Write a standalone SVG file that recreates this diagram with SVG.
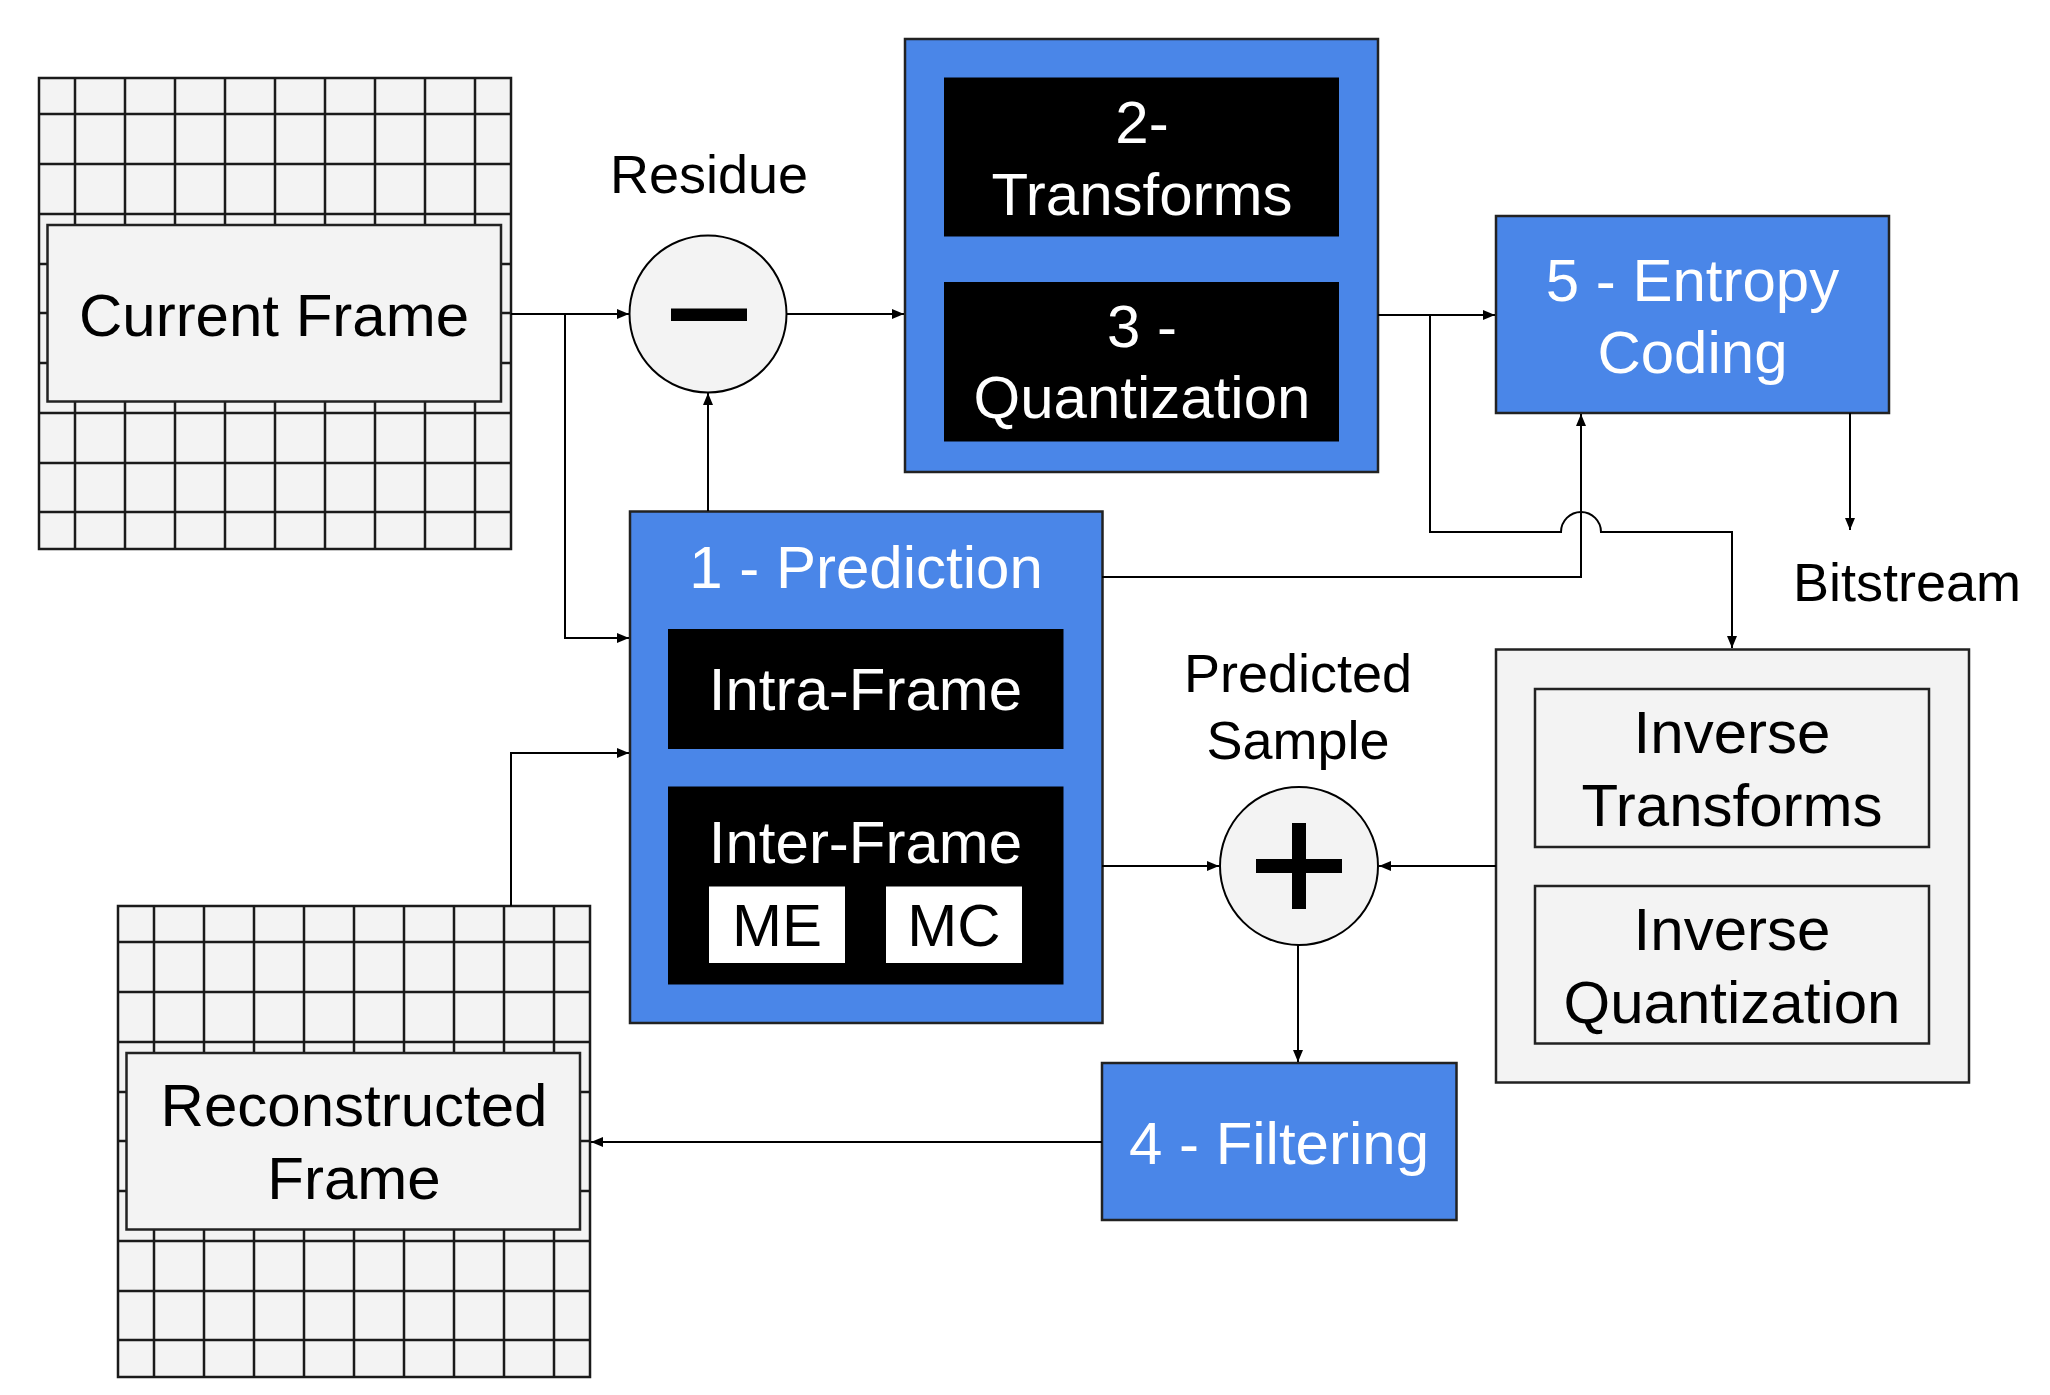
<svg xmlns="http://www.w3.org/2000/svg" width="2050" height="1395" viewBox="0 0 2050 1395">
<style>
  text { font-family: "Liberation Sans", Arial, sans-serif; text-anchor: middle; }
  .w { fill: #ffffff; }
  .k { fill: #000000; }
  .f60 { font-size: 60px; }
  .f54 { font-size: 54px; }
  .blue { fill: #4a86e8; stroke: #222222; stroke-width: 2.5; }
  .blk { fill: #000000; }
  .gray { fill: #f3f3f3; stroke: #222222; stroke-width: 2.5; }
  .grid { fill: none; stroke: #1a1a1a; stroke-width: 2.5; }
  .wht { fill: #ffffff; }
  .conn { fill: none; stroke: #000000; stroke-width: 2; marker-end: url(#arr); }
  .plain { fill: none; stroke: #000000; stroke-width: 2; }
</style>
<defs>
  <marker id="arr" markerUnits="userSpaceOnUse" markerWidth="13" markerHeight="10" refX="12" refY="5" orient="auto">
    <path d="M0,0 L12,5 L0,10 z" fill="#000000"/>
  </marker>
  <g id="gridShape">
    <rect x="39" y="78" width="472" height="471" fill="#f3f3f3" stroke="#1a1a1a" stroke-width="2.5"/>
    <path class="grid" d="M75,78V549 M125,78V549 M175,78V549 M225,78V549 M275,78V549 M325,78V549 M375,78V549 M425,78V549 M475,78V549 M39,114H511 M39,164H511 M39,214H511 M39,264H511 M39,313H511 M39,363H511 M39,413H511 M39,463H511 M39,512H511"/>
  </g>
</defs>
<rect width="2050" height="1395" fill="#ffffff"/>

<g id="current-frame">
  <use href="#gridShape"/>
  <rect class="gray" x="47.5" y="225" width="453.5" height="176.5"/>
  <text class="k f60" x="274" y="336">Current Frame</text>
</g>

<g id="reconstructed-frame">
  <use href="#gridShape" transform="translate(79,828)"/>
  <rect class="gray" x="126.5" y="1053" width="453.5" height="176.5"/>
  <text class="k f60" x="354" y="1126">Reconstructed</text>
  <text class="k f60" x="354" y="1199">Frame</text>
</g>

<g id="residue">
  <text class="k f54" x="709" y="193">Residue</text>
  <circle cx="708" cy="314" r="78.5" fill="#f3f3f3" stroke="#000000" stroke-width="2"/>
  <rect x="671" y="308.5" width="76" height="12.5" fill="#000000"/>
</g>

<g id="transform-quant">
  <rect class="blue" x="905" y="39" width="473" height="433"/>
  <rect class="blk" x="944" y="77.5" width="395" height="159"/>
  <text class="w f60" x="1142" y="143">2-</text>
  <text class="w f60" x="1142" y="215">Transforms</text>
  <rect class="blk" x="944" y="282" width="395" height="159.5"/>
  <text class="w f60" x="1142" y="347">3 -</text>
  <text class="w f60" x="1142" y="418">Quantization</text>
</g>

<g id="entropy">
  <rect class="blue" x="1496" y="216" width="393" height="197"/>
  <text class="w f60" x="1692.5" y="301">5 - Entropy</text>
  <text class="w f60" x="1692.5" y="373">Coding</text>
</g>

<g id="bitstream">
  <text class="k f54" x="1907" y="601">Bitstream</text>
</g>

<g id="prediction">
  <rect class="blue" x="630" y="511.5" width="472.5" height="511.5"/>
  <text class="w f60" x="866" y="588">1 - Prediction</text>
  <rect class="blk" x="668" y="629" width="395.5" height="120"/>
  <text class="w f60" x="865.5" y="710">Intra-Frame</text>
  <rect class="blk" x="668" y="786.5" width="395.5" height="198"/>
  <text class="w f60" x="865.5" y="863">Inter-Frame</text>
  <rect class="wht" x="709" y="886.5" width="136" height="76.5"/>
  <text class="k f60" x="777" y="946">ME</text>
  <rect class="wht" x="886" y="886.5" width="136" height="76.5"/>
  <text class="k f60" x="954" y="946">MC</text>
</g>

<g id="predicted-sample">
  <text class="k f54" x="1298" y="692">Predicted</text>
  <text class="k f54" x="1298" y="759">Sample</text>
  <circle cx="1299" cy="866" r="79" fill="#f3f3f3" stroke="#000000" stroke-width="2"/>
  <rect x="1256" y="859" width="86" height="14" fill="#000000"/>
  <rect x="1292" y="823" width="14" height="86" fill="#000000"/>
</g>

<g id="inverse">
  <rect class="gray" x="1496" y="649.5" width="473" height="433"/>
  <rect class="gray" x="1535" y="689" width="394" height="158"/>
  <text class="k f60" x="1732" y="753">Inverse</text>
  <text class="k f60" x="1732" y="826">Transforms</text>
  <rect class="gray" x="1535" y="886" width="394" height="157.5"/>
  <text class="k f60" x="1732" y="950">Inverse</text>
  <text class="k f60" x="1732" y="1023">Quantization</text>
</g>

<g id="filtering">
  <rect class="blue" x="1102" y="1063" width="354.5" height="157"/>
  <text class="w f60" x="1279" y="1164">4 - Filtering</text>
</g>

<g id="connectors">
  <path class="conn" d="M511,314 H629"/>
  <path class="conn" d="M565,314 V638 H629"/>
  <path class="conn" d="M708,511 V393"/>
  <path class="conn" d="M787,314 H904"/>
  <path class="conn" d="M1378,315 H1495"/>
  <path class="conn" d="M1430,315 V532 H1561 A20,20 0 0 1 1601,532 H1732 V648"/>
  <path class="conn" d="M1102,577 H1581 V414"/>
  <path class="conn" d="M1850,413 V530"/>
  <path class="conn" d="M1102,866 H1219"/>
  <path class="conn" d="M1496,866 H1379"/>
  <path class="conn" d="M1298,945 V1062"/>
  <path class="conn" d="M1102,1142 H591"/>
  <path class="conn" d="M511,906 V753 H629"/>
</g>
</svg>
